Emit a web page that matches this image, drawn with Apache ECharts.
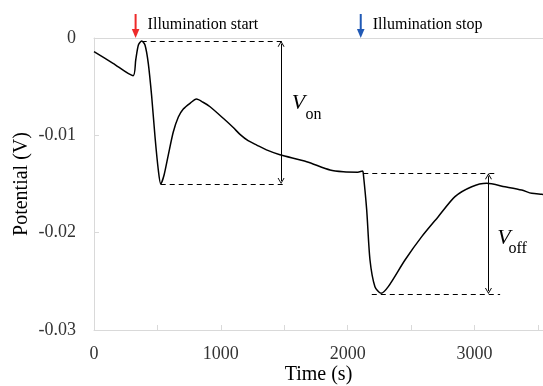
<!DOCTYPE html>
<html>
<head>
<meta charset="utf-8">
<script src="https://cdn.jsdelivr.net/npm/echarts@6/dist/echarts.min.js"></script>
<style>
html,body{margin:0;padding:0;background:#fff;}
#c{width:543px;height:386px;}
</style>
</head>
<body>
<div id="c"></div>
<script>
// Time (s)
var times = [0, 150, 308, 329, 350, 376, 402, 428, 455, 481, 507, 526, 552, 586, 625, 665, 704, 757, 808, 860, 915, 1019, 1098, 1151, 1215, 1283, 1370, 1466, 1677, 1861, 1966, 2080, 2118, 2123, 2150, 2176, 2215, 2263, 2320, 2452, 2584, 2714, 2846, 2978, 3096, 3240, 3372, 3451, 3530, 3540];
// Potential (V)
var potential = [-0.00141, -0.0026, -0.00387, -0.00226, -0.00072, -0.00031, -0.00072, -0.0026, -0.00603, -0.01014, -0.01356, -0.0150, -0.0141, -0.0120, -0.00966, -0.00812, -0.0073, -0.00671, -0.00627, -0.0066, -0.00706, -0.00825, -0.0092, -0.0099, -0.01055, -0.0110, -0.01155, -0.0120, -0.01271, -0.01356, -0.01374, -0.01378, -0.01366, -0.0139, -0.01767, -0.02281, -0.02555, -0.02623, -0.02555, -0.02281, -0.02041, -0.01836, -0.0163, -0.01528, -0.01493, -0.01528, -0.01562, -0.01596, -0.01606, -0.01608];

// Axis ticks
var xTickLabels = [0, 1000, 2000, 3000];
var yTickLabels = [0, -0.01, -0.02, -0.03];

// Annotation values
var illumStart = 328, illumStop = 2103;
var vOnTop = -0.0003, vOnBottom = -0.0150, vOnX = 1475, vOnStartTop = 376, vOnStartBottom = 526, vOnEnd = 1490;
var vOffTop = -0.0139, vOffBottom = -0.0263, vOffX = 3110, vOffStartTop = 2123, vOffStartBottom = 2190, vOffEndTop = 3186, vOffEndBottom = 3202;

var FONT = '"Liberation Serif", "Times New Roman", serif';
var chev = 'path://M0,10 L5,0 L10,10 L8.6,10 L5,2.8 L1.4,10 Z';
var data = times.map(function (t, i) { return [t, potential[i]]; });

function dashed(x1, x2, y) {
  var ls = {color: '#000', width: 1, type: [5, 4]};
  return [{coord: [x1, y], symbol: 'none', lineStyle: ls}, {coord: [x2, y], symbol: 'none', lineStyle: ls}];
}
function dbl(x, y1, y2) {
  var ls = {color: '#000', width: 1, type: 'solid'};
  return [{coord: [x, y1], symbol: chev, symbolSize: [7, 6], lineStyle: ls},
          {coord: [x, y2], symbol: chev, symbolSize: [7, 6], lineStyle: ls}];
}

var chart = echarts.init(document.getElementById('c'), null, {renderer: 'canvas'});
var option = {
  animation: false,
  grid: {left: 94, right: 0, top: 38, bottom: 56, containLabel: false, outerBoundsMode: 'none'},
  xAxis: [{
    type: 'value', min: 0, max: 3540, interval: 500,
    name: 'Time (s)', nameLocation: 'middle', nameGap: 35, nameMoveOverlap: false,
    nameTextStyle: {fontFamily: FONT, fontSize: 20, color: '#000'},
    axisLine: {show: true, onZero: false, lineStyle: {color: '#d9d9d9', width: 1}},
    axisTick: {show: true, inside: true, length: 5, lineStyle: {color: '#d9d9d9'}},
    axisLabel: {margin: 15, fontFamily: FONT, fontSize: 18, color: '#333',
      formatter: function (v) { return xTickLabels.indexOf(v) >= 0 ? String(v) : ''; }},
    splitLine: {show: false}
  }, {
    type: 'value', min: 0, max: 3540, position: 'top',
    axisLine: {show: true, onZero: false, lineStyle: {color: '#d9d9d9', width: 1}},
    axisTick: {show: false}, axisLabel: {show: false}, splitLine: {show: false}
  }],
  yAxis: {
    type: 'value', min: -0.03, max: 0, interval: 0.01,
    name: 'Potential (V)', nameLocation: 'middle', nameGap: 62, nameRotate: 90, nameMoveOverlap: false,
    nameTextStyle: {fontFamily: FONT, fontSize: 20, color: '#000'},
    axisLine: {show: true, onZero: false, lineStyle: {color: '#d9d9d9', width: 1}},
    axisTick: {show: true, inside: true, length: 5, lineStyle: {color: '#d9d9d9'}},
    axisLabel: {margin: 18, fontFamily: FONT, fontSize: 18, color: '#333',
      formatter: function (v) {
        var r = Math.round(v * 100) / 100;
        for (var i = 0; i < yTickLabels.length; i++) {
          if (Math.abs(yTickLabels[i] - r) < 1e-9) return r === 0 ? '0' : r.toFixed(2);
        }
        return '';
      }},
    splitLine: {show: false}
  },
  series: [{
    type: 'line', data: data, showSymbol: false, smooth: 0.25,
    lineStyle: {color: '#000', width: 1.5},
    markLine: {
      silent: true, animation: false, label: {show: false},
      data: [
        dashed(vOnStartTop, vOnEnd, vOnTop),
        dashed(vOnStartBottom, vOnEnd, vOnBottom),
        dbl(vOnX, vOnTop - 0.0003, vOnBottom + 0.0003),
        dashed(vOffStartTop, vOffEndTop, vOffTop),
        dashed(vOffStartBottom, vOffEndBottom, vOffBottom),
        dbl(vOffX, vOffTop - 0.0003, vOffBottom + 0.0003)
      ]
    }
  }]
};
chart.setOption(option);

function px(t, v) { return chart.convertToPixel({gridIndex: 0}, [t, v]); }
function illum(t, color, label) {
  var p = px(t, 0);
  var x = p[0], y0 = p[1];
  return [
    {type: 'line', shape: {x1: x, y1: y0 - 24, x2: x, y2: y0 - 8}, style: {stroke: color, lineWidth: 2}},
    {type: 'polygon', shape: {points: [[x - 3.8, y0 - 9], [x + 3.8, y0 - 9], [x, y0]]}, style: {fill: color}},
    {type: 'text', x: x + 12, y: y0 - 13, style: {text: label, font: '16px ' + FONT, fill: '#000',
      textAlign: 'left', textVerticalAlign: 'middle', align: 'left', verticalAlign: 'middle'}}
  ];
}
function vlabel(tV, vV, tS, vS, sub) {
  var a = px(tV, vV), b = px(tS, vS);
  return [
    {type: 'text', x: a[0], y: a[1], style: {text: 'V', font: 'italic 22px ' + FONT, fill: '#000',
      textAlign: 'left', textVerticalAlign: 'middle', align: 'left', verticalAlign: 'middle'}},
    {type: 'text', x: b[0], y: b[1], style: {text: sub, font: '16px ' + FONT, fill: '#000',
      textAlign: 'left', textVerticalAlign: 'middle', align: 'left', verticalAlign: 'middle'}}
  ];
}
var g = [].concat(
  illum(illumStart, '#ee2a2a', 'Illumination start'),
  illum(illumStop, '#2059b5', 'Illumination stop'),
  vlabel(1559, -0.00668, 1667, -0.00793, 'on'),
  vlabel(3180, -0.02062, 3268, -0.0217, 'off')
);
chart.setOption({graphic: g});
</script>
</body>
</html>
